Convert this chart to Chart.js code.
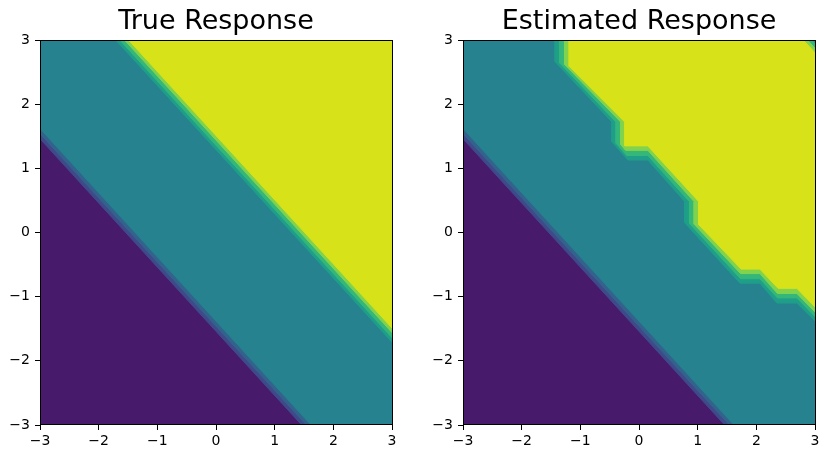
<!DOCTYPE html>
<html>
<head>
<meta charset="utf-8">
<script src="https://cdn.jsdelivr.net/npm/chart.js@4.4.1/dist/chart.umd.min.js"></script>
<style>
  html, body { margin: 0; padding: 0; background: #fff; }
  #wrap { position: relative; width: 829px; height: 459px; }
  canvas { position: absolute; top: 0; }
  #trueChart { left: 0; }
  #estChart { left: 414px; }
</style>
</head>
<body>
<div id="wrap">
  <canvas id="trueChart" width="414" height="459"></canvas>
  <canvas id="estChart" width="415" height="459"></canvas>
</div>
<script>
const titles = ["True Response", "Estimated Response"];
const tickValues = [-3, -2, -1, 0, 1, 2, 3];
const tickLabels = ["\u22123", "\u22122", "\u22121", "0", "1", "2", "3"];

// one colour per contour band, lowest band first (viridis)
const bandColors = ["#481a6c", "#3e4a89", "#33638d", "#26828e", "#1f9e89", "#35b779", "#81d34d", "#d8e219"];

// edges between the lower bands (same in both panels), left edge -> bottom edge
const lowerEdges = [
    [[-3, 1.46], [1.46, -3]],
    [[-3, 1.54], [1.54, -3]],
    [[-3, 1.62], [1.62, -3]],
];

// edges between the upper bands of the true response, top edge -> right edge
const trueUpperEdges = [
    [[-1.71, 3], [3, -1.71]],
    [[-1.64, 3], [3, -1.64]],
    [[-1.56, 3], [3, -1.56]],
    [[-1.49, 3], [3, -1.49]],
];

// edges between the upper bands of the estimate (stair shaped)
const estUpperEdges = [
    [[-1.43, 3], [-1.43, 2.66], [-0.46, 1.72], [-0.46, 1.41], [-0.19, 1.13], [0.15, 1.13], [0.78, 0.48],
     [0.78, 0.15], [1.72, -0.79], [2.06, -0.79], [2.35, -1.10], [2.69, -1.10], [3, -1.38]],
    [[-1.35, 3], [-1.35, 2.64], [-0.39, 1.72], [-0.39, 1.39], [-0.21, 1.20], [0.15, 1.20], [0.86, 0.48],
     [0.86, 0.14], [1.73, -0.72], [2.06, -0.72], [2.36, -1.02], [2.69, -1.02], [3, -1.31]],
    [[-1.27, 3], [-1.27, 2.62], [-0.31, 1.72], [-0.31, 1.37], [-0.23, 1.28], [0.15, 1.28], [0.94, 0.48],
     [0.94, 0.13], [1.73, -0.64], [2.06, -0.64], [2.36, -0.95], [2.69, -0.95], [3, -1.24]],
    [[-1.19, 3], [-1.19, 2.59], [-0.24, 1.72], [-0.24, 1.35], [0.15, 1.35], [1.02, 0.48],
     [1.02, 0.12], [1.74, -0.57], [2.06, -0.57], [2.37, -0.87], [2.69, -0.87], [3, -1.16]],
];

// small dip of the upper bands in the top right corner of the estimate
const estCornerDips = [
    null,
    [[3, 2.94], [2.94, 3]],
    [[3, 2.87], [2.87, 3]],
    [[3, 2.80], [2.80, 3]],
];

// build one closed polygon per band, each covering everything above its edge
function buildLayers(upperEdges, dips) {
    const polys = [[[-3, -3], [3, -3], [3, 3], [-3, 3]]];
    lowerEdges.forEach((e) => polys.push(e.concat([[3, -3], [3, 3], [-3, 3]])));
    upperEdges.forEach((e, i) => {
        const corner = dips && dips[i] ? dips[i] : [[3, 3]];
        polys.push(e.concat(corner));
    });
    return polys.map((p, i) => ({
        data: p.concat([p[0]]).map(([x, y]) => ({ x, y })),
        showLine: true,
        fill: "shape",
        backgroundColor: bandColors[i],
        borderColor: bandColors[i],
        borderWidth: 1,
        pointRadius: 0,
        pointHoverRadius: 0,
        order: polys.length - i, // lowest band drawn first
    }));
}

// axes frame on all four sides, like the matplotlib spines
const framePlugin = {
    id: "frame",
    afterDatasetsDraw(chart) {
        const { ctx, chartArea: a } = chart;
        ctx.save();
        ctx.strokeStyle = "#000";
        ctx.lineWidth = 1;
        ctx.strokeRect(Math.round(a.left) + 0.5, Math.round(a.top) + 0.5,
            Math.round(a.right - a.left), Math.round(a.bottom - a.top) - 1);
        ctx.restore();
    },
};

function scaleOpts(axis, fitSize) {
    return {
        type: "linear",
        min: -3,
        max: 3,
        afterBuildTicks: (s) => { s.ticks = tickValues.map((v) => ({ value: v })); },
        afterFit: (s) => {
            if (axis === "x") s.height = fitSize;
            else s.width = fitSize;
        },
        ticks: {
            callback: (v) => tickLabels[tickValues.indexOf(v)],
            color: "#000",
            font: { family: "DejaVu Sans", size: 14 },
            padding: axis === "x" ? 3 : 5,
            maxRotation: 0,
            autoSkip: false,
        },
        grid: { drawOnChartArea: false, drawTicks: true, tickLength: 5, color: "#000" },
        border: { display: false },
    };
}

function makeChart(id, title, upperEdges, dips, leftSize, rightPad) {
    new Chart(document.getElementById(id), {
        type: "scatter",
        data: { datasets: buildLayers(upperEdges, dips) },
        options: {
            responsive: false,
            animation: false,
            events: [],
            layout: { padding: { left: 0, right: rightPad, top: 0, bottom: 0 } },
            scales: {
                x: scaleOpts("x", 34),
                y: scaleOpts("y", leftSize),
            },
            plugins: {
                legend: { display: false },
                tooltip: { enabled: false },
                title: {
                    display: true,
                    text: title,
                    fullSize: false,
                    color: "#000",
                    font: { family: "DejaVu Sans", size: 27, weight: "normal" },
                    padding: { top: 6, bottom: 1.6 },
                },
            },
        },
        plugins: [framePlugin],
    });
}

makeChart("trueChart", titles[0], trueUpperEdges, null, 40, 22);
makeChart("estChart", titles[1], estUpperEdges, estCornerDips, 49, 14);
</script>
</body>
</html>
